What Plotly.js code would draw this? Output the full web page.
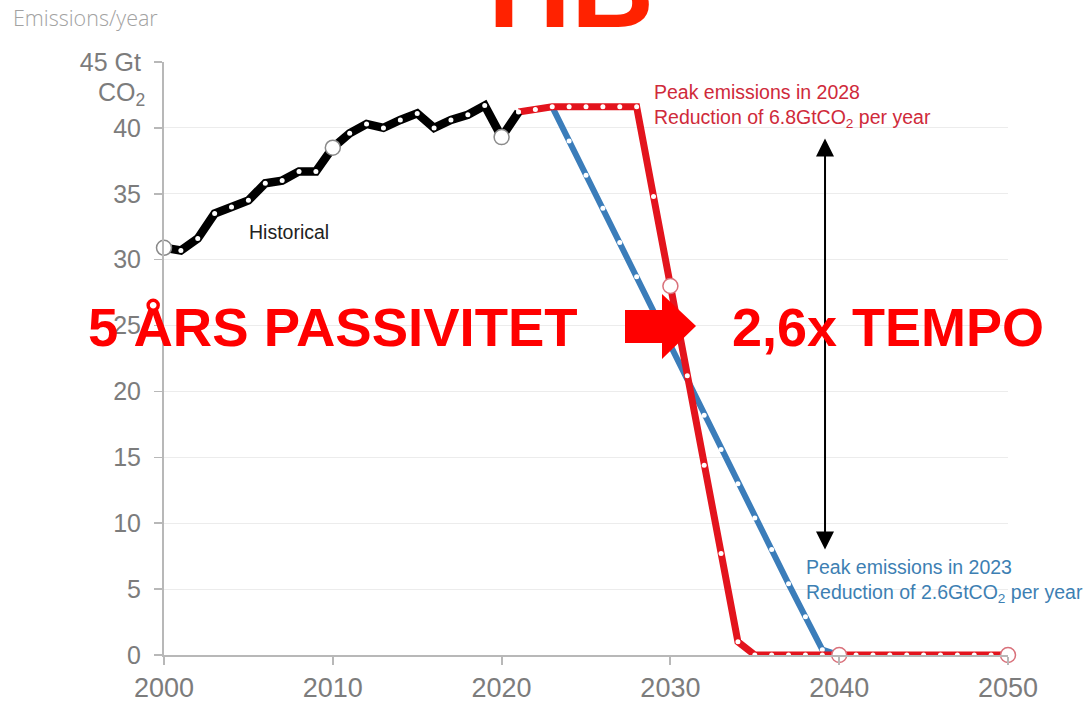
<!DOCTYPE html>
<html>
<head>
<meta charset="utf-8">
<script src="https://cdn.plot.ly/plotly-3.0.1.min.js"></script>
<style>html,body{margin:0;padding:0;background:#fff;}#chart{width:1092px;height:703px;}</style>
</head>
<body>
<div id="chart"></div>
<script>
// ---- data ----
const histYears = [2000,2001,2002,2003,2004,2005,2006,2007,2008,2009,2010,2011,2012,2013,2014,2015,2016,2017,2018,2019,2020,2021];
const histValues = [30.9,30.7,31.6,33.5,34.0,34.5,35.8,36.0,36.7,36.7,38.5,39.6,40.3,40.0,40.6,41.1,40.0,40.6,41.0,41.7,39.3,41.2];

const lateYears = [2021,2022,2023,2024,2025,2026,2027,2028,2029,2030,2031,2032,2033,2034,2035,2036,2037,2038,2039,2040,2041,2042,2043,2044,2045,2046,2047,2048,2049,2050];
const lateValues = [41.2,41.4,41.6,41.6,41.6,41.6,41.6,41.6,34.8,28.0,21.2,14.4,7.7,1.0,0,0,0,0,0,0,0,0,0,0,0,0,0,0,0,0];

const earlyYears = [2023,2024,2025,2026,2027,2028,2029,2030,2031,2032,2033,2034,2035,2036,2037,2038,2039,2040];
const earlyValues = [41.6,39.0,36.4,33.9,31.3,28.7,26.0,23.4,20.8,18.2,15.6,13.0,10.4,8.0,5.4,2.9,0.4,0];

const milestoneYears = [2000,2010,2020,2030,2040,2050];
const milestoneValues = [30.9,38.5,39.3,28.0,0,0];

const xTickVals = [2000,2010,2020,2030,2040,2050];
const yTickVals = [0,5,10,15,20,25,30,35,40,45];
const yTickText = ['0','5','10','15','20','25','30','35','40','45 Gt'];

// ---- styling ----
const FONT = 'Liberation Sans, Arial, Helvetica, sans-serif';
const RED = '#e3141d';
const BLUE = '#3b7dba';
const GREY = '#7c7c7c';

// plot-area pixel geometry helpers for decorative overlays
const L = 164, R = 1008, T = 62, B = 655;
const px = x => (x - L) / (R - L);
const py = y => (B - y) / (B - T);

const traces = [
  {x: earlyYears, y: earlyValues, mode: 'lines+markers', cliponaxis: false,
   line: {color: BLUE, width: 6}, marker: {color: '#fff', size: 5, line: {width: 0}}, hoverinfo: 'x+y'},
  {x: lateYears, y: lateValues, mode: 'lines+markers', cliponaxis: false,
   line: {color: RED, width: 7}, marker: {color: '#fff', size: 5, line: {width: 0}}, hoverinfo: 'x+y'},
  {x: histYears, y: histValues, mode: 'lines+markers', cliponaxis: false,
   line: {color: '#000', width: 8.5}, marker: {color: '#fff', size: 5, line: {width: 0}}, hoverinfo: 'x+y'},
  {x: milestoneYears, y: milestoneValues, mode: 'markers', cliponaxis: false,
   marker: {color: '#fff', size: 15, line: {width: 1.5, color: ['#8a8a8a','#8a8a8a','#8a8a8a','#d9707a','#d9707a','#d9707a']}}, hoverinfo: 'x+y'}
];

const arrowPath = `M${px(625)},${py(310)} L${px(662)},${py(310)} L${px(662)},${py(294)} L${px(696)},${py(326)} L${px(662)},${py(359)} L${px(662)},${py(343)} L${px(625)},${py(343)} Z`;

const layout = {
  width: 1092, height: 703,
  margin: {l: L, r: 1092 - R, t: T, b: 703 - B, pad: 0},
  paper_bgcolor: '#fff', plot_bgcolor: '#fff',
  showlegend: false,
  font: {family: FONT, color: GREY},
  xaxis: {
    range: [2000, 2050], tickvals: xTickVals, ticktext: xTickVals.map(String),
    showgrid: false, zeroline: false, showline: true, linecolor: '#b8b8b8', linewidth: 2,
    ticks: 'outside', ticklen: 8, tickwidth: 2, tickcolor: '#b8b8b8',
    tickfont: {family: FONT, size: 27, color: GREY}, fixedrange: true
  },
  yaxis: {
    range: [0, 45], tickvals: yTickVals, ticktext: yTickText,
    showgrid: true, gridcolor: '#ececec', gridwidth: 1, zeroline: false,
    showline: true, linecolor: '#b8b8b8', linewidth: 2,
    ticks: 'outside', ticklen: 8, tickwidth: 1.5, tickcolor: '#b8b8b8',
    ticklabelstandoff: 8,
    tickfont: {family: FONT, size: 25, color: GREY}, fixedrange: true
  },
  shapes: [
    {type: 'path', xref: 'paper', yref: 'paper', path: arrowPath, fillcolor: '#ff0000', line: {width: 0}, layer: 'above'}
  ],
  annotations: [
    {xref: 'paper', yref: 'paper', x: px(11), y: py(18), xanchor: 'left', yanchor: 'middle', showarrow: false,
     text: 'Emissions/year', font: {family: 'Open Sans, Noto Sans, sans-serif', size: 21.5, color: '#a2a2a2', weight: 300}},
    {xref: 'paper', yref: 'paper', x: px(147), y: py(94), xanchor: 'right', yanchor: 'middle', showarrow: false,
     text: 'CO<sub>2</sub>', font: {family: FONT, size: 25, color: GREY}},
    {xref: 'paper', yref: 'paper', x: px(247), y: py(232), xanchor: 'left', yanchor: 'middle', showarrow: false,
     text: 'Historical', font: {family: FONT, size: 19.5, color: '#222'}},
    {xref: 'paper', yref: 'paper', x: px(652), y: py(106), xanchor: 'left', yanchor: 'middle', align: 'left', showarrow: false,
     text: 'Peak emissions in 2028<br>Reduction of 6.8GtCO<sub>2</sub> per year', font: {family: FONT, size: 19.5, color: '#cf2a3a'}},
    {xref: 'paper', yref: 'paper', x: px(804), y: py(581), xanchor: 'left', yanchor: 'middle', align: 'left', showarrow: false,
     text: 'Peak emissions in 2023<br>Reduction of 2.6GtCO<sub>2</sub> per year', font: {family: FONT, size: 19.5, color: '#3d7fb3'}},
    {xref: 'x', yref: 'y', axref: 'x', ayref: 'y', x: 2039.16, y: 8.0, ax: 2039.16, ay: 39.3, text: '',
     showarrow: true, arrowside: 'end+start', arrowhead: 2, startarrowhead: 2, arrowsize: 1.8, startarrowsize: 1.8,
     arrowwidth: 2, arrowcolor: '#000', standoff: 0, startstandoff: 0},
    {xref: 'paper', yref: 'paper', x: px(86), y: py(327), xanchor: 'left', yanchor: 'middle', showarrow: false,
     text: '<b>5 ÅRS PASSIVITET</b>', font: {family: FONT, size: 54.5, color: '#ff0000'}},
    {xref: 'paper', yref: 'paper', x: px(730), y: py(327), xanchor: 'left', yanchor: 'middle', showarrow: false,
     text: '<b>2,6x TEMPO</b>', font: {family: FONT, size: 54, color: '#ff0000'}},
    {xref: 'paper', yref: 'paper', x: px(571), y: py(-13), xanchor: 'center', yanchor: 'middle', showarrow: false,
     text: '<b>HB</b>', font: {family: FONT, size: 115, color: '#ff2200'}}
  ]
};

Plotly.newPlot('chart', traces, layout, {displayModeBar: false, staticPlot: true});
</script>
</body>
</html>
